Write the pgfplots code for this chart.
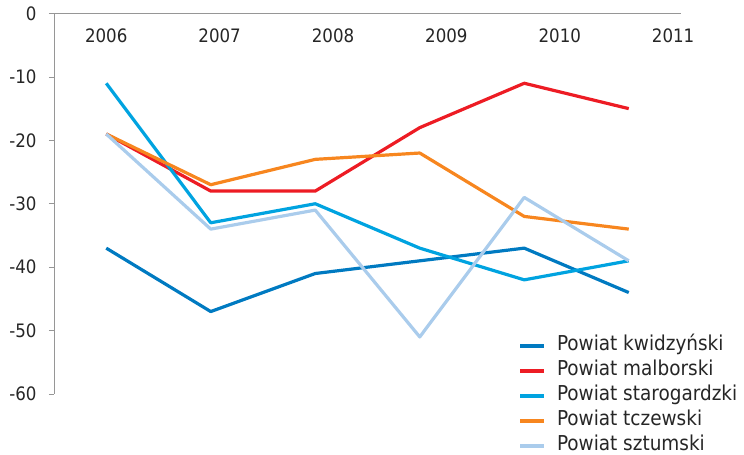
\documentclass[border=0pt]{standalone}
\usepackage{pgfplots}
\pgfplotsset{compat=1.18}
\usepackage{fontspec}
\setmainfont{DejaVu Sans Condensed}
\definecolor{ckw}{RGB}{0,122,193}
\definecolor{cma}{RGB}{237,28,36}
\definecolor{cst}{RGB}{0,163,224}
\definecolor{ctc}{RGB}{247,134,31}
\definecolor{csz}{RGB}{170,204,236}
\definecolor{axg}{RGB}{150,150,150}
\begin{document}
\begin{tikzpicture}
\path[use as bounding box] (-54bp,-61bp) rectangle (690bp,394bp);
\begin{axis}[
  scale only axis,
  width=627bp, height=380.5bp,
  xmin=-0.5, xmax=5.5, ymin=-60, ymax=0,
  axis x line*=top, axis y line*=left,
  axis line style={draw=axg, line width=0.8bp},
  xtick={0,1.085,2.17,3.255,4.34,5.425},
  xticklabels={2006,2007,2008,2009,2010,2011},
  x tick style={draw=none},
  xticklabel style={anchor=center, yshift=-27.5bp},
  ytick={-60,-50,...,0},
  yticklabel style={xshift=-9bp},
  tick align=outside,
  y tick style={draw=axg, line width=0.8bp},
  major tick length=5bp,
  /pgf/number format/assume math mode=true,
  tick label style={font=\fontsize{18.5bp}{21bp}\selectfont, text=black!85},
  legend style={at={(0.741,0.149)}, anchor=north west, draw=none, fill=none,
    font=\fontsize{20.5bp}{24bp}\selectfont, inner sep=0pt, row sep=8bp,
    column sep=11bp,
    nodes={inner sep=0pt, text height=13bp, text depth=4bp},
    legend cell align=left, text=black!85},
  legend image code/.code={\draw[#1, line width=3.2bp] (0bp,0bp) -- (24bp,0bp);},
  every axis plot/.append style={line width=3.2bp, line join=round, mark=none},
]
\addplot[ckw] coordinates {(0,-37) (1,-47) (2,-41) (3,-39) (4,-37) (5,-44)};
\addlegendentry{Powiat kwidzyński}
\addplot[cma] coordinates {(0,-19) (1,-28) (2,-28) (3,-18) (4,-11) (5,-15)};
\addlegendentry{Powiat malborski}
\addplot[cst] coordinates {(0,-11) (1,-33) (2,-30) (3,-37) (4,-42) (5,-39)};
\addlegendentry{Powiat starogardzki}
\addplot[ctc] coordinates {(0,-19) (1,-27) (2,-23) (3,-22) (4,-32) (5,-34)};
\addlegendentry{Powiat tczewski}
\addplot[csz] coordinates {(0,-19) (1,-34) (2,-31) (3,-51) (4,-29) (5,-39)};
\addlegendentry{Powiat sztumski}
\end{axis}
\end{tikzpicture}
\end{document}
